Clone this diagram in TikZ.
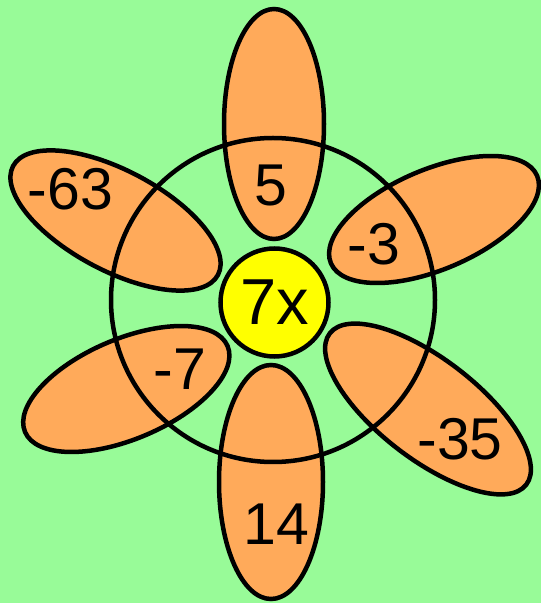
\documentclass[tikz,border=0pt]{standalone}
\usepackage{fontspec}
\setmainfont{Liberation Sans}
\usetikzlibrary{positioning}
\definecolor{LeafGreen}{HTML}{98FB98}
\definecolor{PetalOrange}{HTML}{FFAA5A}
\definecolor{CoreYellow}{HTML}{FFFF00}

\begin{document}
\begin{tikzpicture}[
    x=1pt,y=1pt,
    petal/.style={draw=black,line width=4.5pt,fill=PetalOrange},
    ring/.style={draw=black,line width=4.5pt},
    num/.style={font=\fontsize{59}{60}\selectfont,inner sep=0pt}
  ]
  \fill[LeafGreen] (0,0) rectangle (541,603);
  \useasboundingbox (0,0) rectangle (541,603);

  % petals
  \draw[petal] (274,479) ellipse [x radius=50,y radius=115];
  \draw[petal] (271,121) ellipse [x radius=52,y radius=117];
  \draw[petal,rotate around={23:(434,383.5)}] (434,383.5) ellipse [x radius=112,y radius=50];
  \draw[petal,rotate around={-37.6:(428,194)}] (428,194) ellipse [x radius=124,y radius=50];
  \draw[petal,rotate around={-28:(115.5,382.5)}] (115.5,382.5) ellipse [x radius=116,y radius=50];
  \draw[petal,rotate around={23:(126.3,214)}] (126.3,214) ellipse [x radius=110,y radius=50];

  % ring over the petals, then the centre
  \draw[ring] (273,303) circle [radius=162];
  \node[circle,draw=black,line width=4.5pt,fill=CoreYellow,minimum size=108pt,
        inner sep=0pt,font=\fontsize{65}{66}\selectfont] (core) at (274.5,300.5) {7x};

  \node[num] (top)   at (271,418)   {5};
  \node[num] (upr)   at (373.7,359) {-3};
  \node[num] (lowr)  at (460,164)   {-35};
  \node[num] (bot)   at (276.7,79)  {14};
  \node[num] (lowl)  at (180,234)   {-7};
  \node[num] (upl)   at (70.5,414)  {-63};
\end{tikzpicture}
\end{document}
